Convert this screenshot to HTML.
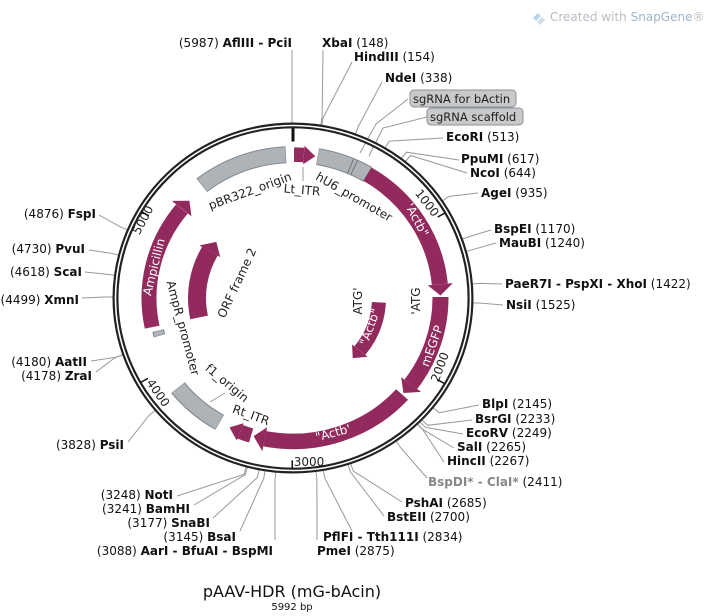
<!DOCTYPE html>
<html><head><meta charset="utf-8">
<style>
html,body{margin:0;padding:0;background:#fff;}
svg{display:block;font-family:"DejaVu Sans","Liberation Sans",sans-serif;}
.l{font-size:12px;fill:#111;}
.b{font-weight:bold;}
.c{stroke:#999;stroke-width:1;fill:none;}
.f{font-size:12px;fill:#222;}
.w{font-size:12px;fill:#fff;}
</style></head><body>
<svg width="704" height="616" viewBox="0 0 704 616" xmlns="http://www.w3.org/2000/svg">
<rect width="704" height="616" fill="#fff"/>
<g transform="translate(533,11)"><path d="M0,7 L5,2 L8,5 L3,10 Z" fill="#b9d4e6"/><path d="M4,11 L9,6 L12,9 L7,14 Z" fill="#cfe0ec"/></g>
<text x="550" y="21" style="font-size:12px;fill:#b8bcc4">Created with <tspan fill="#9fb5c8">SnapGene</tspan>®</text>

<g class="c">
<polyline points="292,123 292,115 292,50"/>
<polyline points="320.8,125 322.1,117.5 323,50"/>
<polyline points="321.9,125.3 323.2,117.7 352,62"/>
<polyline points="355.5,133.9 358.2,126.6 382,82"/>
<polyline points="360,153 376,124 408,99"/>
<polyline points="369,156 383,128 427,117"/>
<polyline points="385.2,147.7 389.3,141.1 443,138"/>
<polyline points="401.5,158.4 406.4,152.2 459,160"/>
<polyline points="405.5,161.5 410.5,155.5 467,173"/>
<polyline points="442.6,200.7 449.2,196.4 478,193"/>
<polyline points="462.4,239 469.9,236.4 491,230"/>
<polyline points="466.4,251.3 474.2,249.2 496,243"/>
<polyline points="472.4,284 480.4,283.4 502,284"/>
<polyline points="472.9,302.9 480.9,303.1 503,305"/>
<polyline points="433,407.9 439.3,412.7 479,405"/>
<polyline points="422,420 427.8,425.3 472,420"/>
<polyline points="420,422 425.7,427.4 463,434"/>
<polyline points="417.7,424.2 423.3,429.7 454,448"/>
<polyline points="417.5,424.3 423,430 444,462"/>
<polyline points="396,441 400.5,447.4 427,478"/>
<polyline points="350.7,463.7 353.3,471 402,502"/>
<polyline points="348,464.6 350.5,472 384,516"/>
<polyline points="323.3,470.5 324.7,478 352,531"/>
<polyline points="315.9,471.6 316.9,479 317,540"/>
<polyline points="275.8,472.2 275,480 275,540"/>
<polyline points="265,470.9 263.7,478.5 240,531"/>
<polyline points="259,469.9 257.5,477.4 213,518"/>
<polyline points="247.3,467.3 245.3,474.7 194,505"/>
<polyline points="246.1,467 244,474.4 177,496"/>
<polyline points="155.1,410.5 149,415.5 128,442"/>
<polyline points="122.8,355 115.2,357.5 96,372"/>
<polyline points="122.8,354.9 115.2,357.4 91,361"/>
<polyline points="113,297 105,297 82,298"/>
<polyline points="114.5,275.3 106.6,274.3 85,272"/>
<polyline points="118.5,255.1 110.8,253.2 89,250"/>
<polyline points="127.3,229.8 119.9,226.7 99,215"/>
<line x1="303" y1="167" x2="303" y2="181"/>
<line x1="210" y1="402" x2="225" y2="393"/>
</g>

<g transform="translate(293,298) scale(1,0.972)">
<circle r="177.5" fill="none" stroke="#222" stroke-width="6"/>
<circle r="177.5" fill="none" stroke="#fff" stroke-width="1.6"/>
<line x1="0" y1="-175" x2="0" y2="-161" stroke="#111" stroke-width="3"/>
<g stroke="#111" stroke-width="1.5">
<line x1="0" y1="-175" x2="0" y2="-167" transform="rotate(60.08)"/>
<line x1="0" y1="-175" x2="0" y2="-167" transform="rotate(120.16)"/>
<line x1="0" y1="-175" x2="0" y2="-167" transform="rotate(180.24)"/>
<line x1="0" y1="-175" x2="0" y2="-167" transform="rotate(240.32)"/>
<line x1="0" y1="-175" x2="0" y2="-167" transform="rotate(300.4)"/>
</g>
<g fill="none">
<circle r="147.5" stroke="#7f858b" stroke-width="17.5" stroke-dasharray="91.2 2000" transform="rotate(231.8)"/>
<circle r="147.5" stroke="#aeb3b8" stroke-width="15.5" stroke-dasharray="90.1 2000" transform="rotate(232)"/>
<circle r="147.5" stroke="#7f858b" stroke-width="17.5" stroke-dasharray="53.6 2000" transform="rotate(-80.4)"/>
<circle r="147.5" stroke="#aeb3b8" stroke-width="15.5" stroke-dasharray="52.5 2000" transform="rotate(-80.2)"/>
<circle r="147.5" stroke="#7f858b" stroke-width="17.5" stroke-dasharray="55.2 2000" transform="rotate(119.8)"/>
<circle r="147.5" stroke="#aeb3b8" stroke-width="15.5" stroke-dasharray="54.1 2000" transform="rotate(120)"/>
<circle r="139" stroke="#7f858b" stroke-width="12" stroke-dasharray="5.5 2000" transform="rotate(163.8)"/>
<circle r="139" stroke="#aeb3b8" stroke-width="10" stroke-dasharray="4.5 2000" transform="rotate(164)"/>
</g>
<g stroke="#6f757b" stroke-width="1">
<line x1="0" y1="-139" x2="0" y2="-156" transform="rotate(23)"/>
<line x1="0" y1="-139" x2="0" y2="-156" transform="rotate(24.5)"/>
</g>
<g fill="none" stroke="#922a5e">
<circle r="147.5" stroke-width="15" stroke-dasharray="9.8 2000" transform="rotate(-89.6)"/>
<circle r="147.5" stroke-width="16" stroke-dasharray="139.5 2000" transform="rotate(-59.7)"/>
<circle r="147.5" stroke-width="16" stroke-dasharray="96.3 2000" transform="rotate(-0.4)"/>
<circle r="147.5" stroke-width="16" stroke-dasharray="151.1 2000" transform="rotate(42.3)"/>
<circle r="147.5" stroke-width="15" stroke-dasharray="11.6 2000" transform="rotate(106.5)"/>
<circle r="144" stroke-width="15" stroke-dasharray="129.4 2000" transform="rotate(168)"/>
<circle r="96" stroke-width="18" stroke-dasharray="70.4 2000" transform="rotate(168)"/>
<circle r="86" stroke-width="14" stroke-dasharray="54 2000" transform="rotate(3)"/>
</g>
<g fill="#922a5e">
<polygon points="-12.3,-156.5 -10.8,-137.6 0,-147.5" transform="rotate(8.7)"/>
<polygon points="-12.56,-160 -10.6,-135 0,-147.5" transform="rotate(89)"/>
<polygon points="-12.56,-160 -10.6,-135 0,-147.5" transform="rotate(131.5)"/>
<polygon points="-12.56,-160 -10.6,-135 0,-147.5" transform="rotate(195.5)"/>
<polygon points="-12.3,-156.5 -10.8,-137.6 0,-147.5" transform="rotate(205.5)"/>
<polygon points="-12.3,-156.5 -10.1,-131.5 0,-144" transform="rotate(314)"/>
<polygon points="-13.2,-107.2 -10.2,-83.4 0,-96" transform="rotate(307)"/>
<polygon points="-11.7,-95.3 -9.3,-75.4 0,-86" transform="rotate(136)"/>
</g>
</g>

<g class="f" text-anchor="middle" dominant-baseline="central">
<text transform="translate(427,203) rotate(52)">1000</text>
<text transform="translate(440,367) rotate(-70)">2000</text>
<text transform="translate(309,462)">3000</text>
<text transform="translate(158,393) rotate(55)">4000</text>
<text transform="translate(143,220) rotate(-62)">5000</text>
</g>

<g class="f" text-anchor="middle" dominant-baseline="central">
<text transform="translate(250,191) rotate(-20)">pBR322_origin</text>
<text transform="translate(302,190) rotate(5)">Lt_ITR</text>
<text transform="translate(354,197) rotate(30)">hU6_promoter</text>
<text transform="translate(416,301) rotate(-90)">'ATG</text>
<text transform="translate(358,301) rotate(-90)">ATG'</text>
<text transform="translate(251,415) rotate(20)">Rt_ITR</text>
<text transform="translate(227,383) rotate(40)">f1_origin</text>
<text transform="translate(183,328) rotate(75)">AmpR_promoter</text>
<text transform="translate(237,283) rotate(-65)">ORF frame 2</text>
</g>
<g class="w" text-anchor="middle" dominant-baseline="central">
<text transform="translate(417,220) rotate(62)">'Actb"</text>
<text transform="translate(370,327) rotate(-70)">"Actb"</text>
<text transform="translate(432,346) rotate(-70)">mEGFP</text>
<text transform="translate(333,433) rotate(-15)">"Actb'</text>
<text transform="translate(154,267) rotate(-76)">Ampicillin</text>
</g>

<g class="l" xml:space="preserve">
<text x="322" y="47"><tspan class="b">XbaI</tspan>  (148)</text>
<text x="354" y="61"><tspan class="b">HindIII</tspan>  (154)</text>
<text x="385" y="82"><tspan class="b">NdeI</tspan>  (338)</text>
<text x="446" y="141"><tspan class="b">EcoRI</tspan>  (513)</text>
<text x="461" y="163"><tspan class="b">PpuMI</tspan>  (617)</text>
<text x="470" y="177"><tspan class="b">NcoI</tspan>  (644)</text>
<text x="481" y="197"><tspan class="b">AgeI</tspan>  (935)</text>
<text x="494" y="233"><tspan class="b">BspEI</tspan>  (1170)</text>
<text x="499" y="247"><tspan class="b">MauBI</tspan>  (1240)</text>
<text x="505" y="288"><tspan class="b">PaeR7I - PspXI - XhoI</tspan>  (1422)</text>
<text x="506" y="309"><tspan class="b">NsiI</tspan>  (1525)</text>
<text x="482" y="408"><tspan class="b">BlpI</tspan>  (2145)</text>
<text x="475" y="423"><tspan class="b">BsrGI</tspan>  (2233)</text>
<text x="466" y="437"><tspan class="b">EcoRV</tspan>  (2249)</text>
<text x="457" y="451"><tspan class="b">SalI</tspan>  (2265)</text>
<text x="447" y="465"><tspan class="b">HincII</tspan>  (2267)</text>
<text x="428" y="486"><tspan class="b" fill="#888">BspDI* - ClaI*</tspan>  (2411)</text>
<text x="405" y="507"><tspan class="b">PshAI</tspan>  (2685)</text>
<text x="387" y="521"><tspan class="b">BstEII</tspan>  (2700)</text>
<text x="323" y="541"><tspan class="b">PflFI - Tth111I</tspan>  (2834)</text>
<text x="317" y="555"><tspan class="b">PmeI</tspan>  (2875)</text>
</g>
<g class="l" text-anchor="end" xml:space="preserve">
<text x="292" y="47">(5987)  <tspan class="b">AflIII - PciI</tspan></text>
<text x="173" y="499">(3248)  <tspan class="b">NotI</tspan></text>
<text x="190" y="513">(3241)  <tspan class="b">BamHI</tspan></text>
<text x="210" y="527">(3177)  <tspan class="b">SnaBI</tspan></text>
<text x="236" y="541">(3145)  <tspan class="b">BsaI</tspan></text>
<text x="273" y="555">(3088)  <tspan class="b">AarI - BfuAI - BspMI</tspan></text>
<text x="96" y="218">(4876)  <tspan class="b">FspI</tspan></text>
<text x="85" y="253">(4730)  <tspan class="b">PvuI</tspan></text>
<text x="82" y="276">(4618)  <tspan class="b">ScaI</tspan></text>
<text x="79" y="304">(4499)  <tspan class="b">XmnI</tspan></text>
<text x="87" y="366">(4180)  <tspan class="b">AatII</tspan></text>
<text x="92" y="380">(4178)  <tspan class="b">ZraI</tspan></text>
<text x="124" y="449">(3828)  <tspan class="b">PsiI</tspan></text>
</g>
<rect x="410" y="90" width="106" height="17" rx="4" fill="#c8c9cb" stroke="#8d9096"/>
<text x="413" y="103" class="l" style="fill:#222;font-size:11.5px">sgRNA for bActin</text>
<rect x="427" y="108" width="96" height="17" rx="4" fill="#c8c9cb" stroke="#8d9096"/>
<text x="430" y="121" class="l" style="fill:#222;font-size:11.5px">sgRNA scaffold</text>

<text x="292" y="597" text-anchor="middle" style="font-size:16px;fill:#111">pAAV-HDR (mG-bAcin)</text>
<text x="292" y="610" text-anchor="middle" style="font-size:10px;fill:#111">5992 bp</text>
</svg>
</body></html>
